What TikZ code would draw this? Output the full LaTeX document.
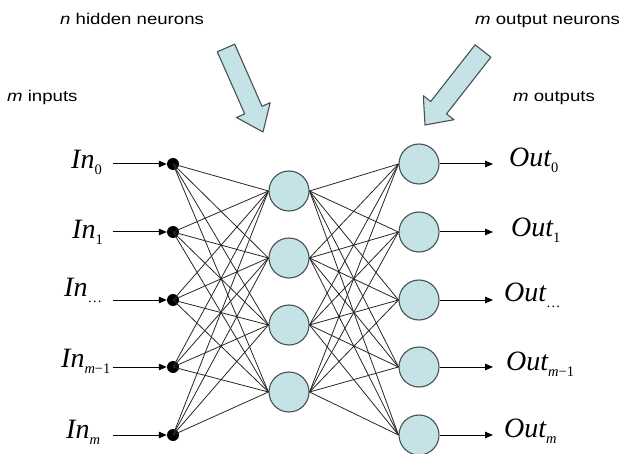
\documentclass[tikz,border=0pt]{standalone}
\usepackage{fontspec}
\setmainfont{Liberation Serif}
\newfontfamily\capfont[FakeStretch=1.2]{Liberation Sans}
\usetikzlibrary{arrows.meta}
\definecolor{cellfill}{RGB}{197,226,230}
\definecolor{celledge}{RGB}{70,82,82}
% variable name with a lowered subscript
\newcommand{\varlbl}[2]{{\fontsize{28bp}{30bp}\selectfont\itshape #1}\raisebox{-6bp}{\fontsize{14.5bp}{16bp}\selectfont #2}}
\begin{document}
\begin{tikzpicture}[x=1bp,y=-1bp,
  inputdot/.style={circle,fill=black,inner sep=0pt,minimum size=12bp},
  neuron/.style={circle,draw=celledge,fill=cellfill,line width=1.1bp,inner sep=0pt,minimum size=40bp},
  link/.style={draw=black!85,line width=0.8bp},
  feed/.style={-{Triangle[length=8bp,width=6.5bp]},line width=1bp},
  pointer/.style={draw=celledge,fill=cellfill,line width=1.1bp,line join=round},
  caption/.style={anchor=base west,inner sep=0pt,font=\capfont\fontsize{15.5bp}{18bp}\selectfont},
  varlabel/.style={anchor=base west,inner sep=0pt}]
\useasboundingbox (0,0) rectangle (626,454);

% input points and output neurons share the same rows
\foreach \y [count=\k from 0] in {164,232,300,367,435} {
  \node[inputdot] (in\k) at (173,\y) {};
  \coordinate (src\k) at (113,\y);
  \node[neuron] (out\k) at (419,\y) {};
  \coordinate (dst\k) at (493,\y);
}
% hidden layer
\foreach \y [count=\k from 0] in {191,258,325,392}
  \node[neuron] (hid\k) at (289,\y) {};

% full connections
\foreach \i in {0,...,4}
  \foreach \j in {0,...,3} {
    \draw[link] (in\i.center) -- (hid\j.west);
    \draw[link] (hid\j.east) -- (out\i.west);
  }

% input and output arrows
\foreach \i in {0,...,4} {
  \draw[feed] (src\i) -- (in\i);
  \draw[feed] (out\i) -- (dst\i);
}

% variable labels
\node[varlabel] (lin0) at (71,169) {\varlbl{In}{0}};
\node[varlabel] (lin1) at (72,239) {\varlbl{In}{1}};
\node[varlabel] (lin2) at (64,297) {\varlbl{In}{\dots}};
\node[varlabel] (lin3) at (61,367) {\varlbl{In}{\textit{m}−1}};
\node[varlabel] (lin4) at (66,438) {\varlbl{In}{\textit{m}}};
\node[varlabel] (lout0) at (509,167) {\varlbl{Out}{0}};
\node[varlabel] (lout1) at (511,237) {\varlbl{Out}{1}};
\node[varlabel] (lout2) at (504,302) {\varlbl{Out}{\dots}};
\node[varlabel] (lout3) at (506,370) {\varlbl{Out}{\textit{m}−1}};
\node[varlabel] (lout4) at (504,437) {\varlbl{Out}{\textit{m}}};

% captions
\node[caption] (hcap) at (60,25) {\textit{n} hidden neurons};
\node[caption] (ocap) at (475,25) {\textit{m} output neurons};
\node[caption] (icap) at (7,102) {\textit{m} inputs};
\node[caption] (rcap) at (513,102) {\textit{m} outputs};

% block arrows pointing at the layers
\draw[pointer] (234.7,44.2) -- (217.3,51.8) -- (244.7,113.9) -- (236.5,117.5)
  -- (263,132) -- (270.2,102.7) -- (262.0,106.3) -- cycle;
\draw[pointer] (475.1,44.8) -- (430.7,101.5) -- (423.3,95.7) -- (425,125)
  -- (454.0,119.7) -- (446.5,113.9) -- (490.9,57.2) -- cycle;
\end{tikzpicture}
\end{document}
